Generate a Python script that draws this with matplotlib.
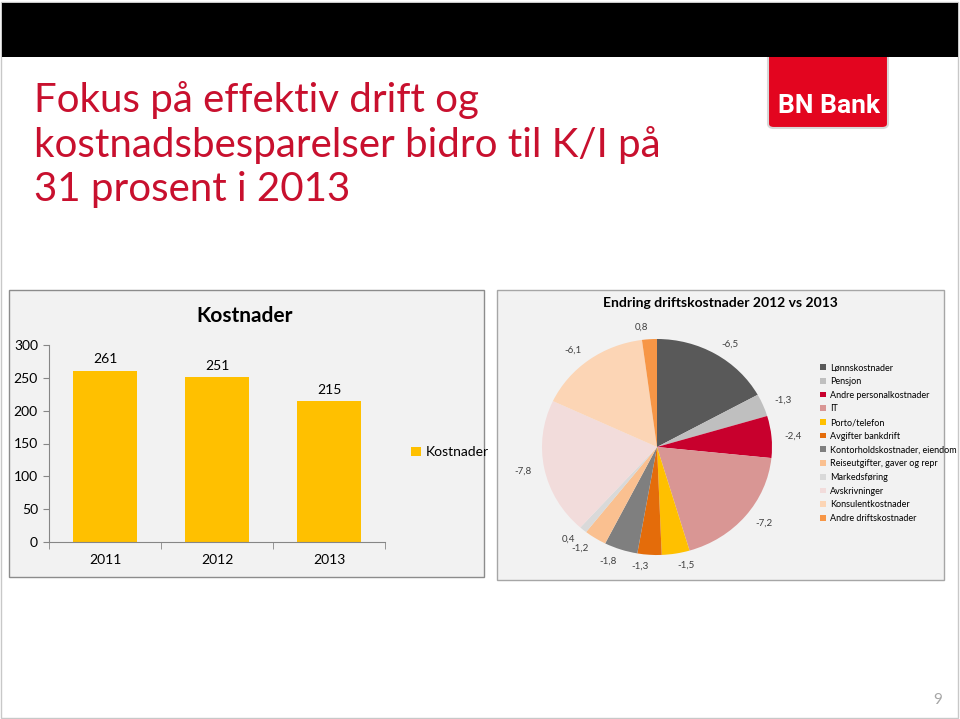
import numpy as np
import matplotlib.pyplot as plt
from matplotlib.patches import Rectangle, FancyBboxPatch

# bar chart data
years = ['2011', '2012', '2013']
kostnader = [261, 251, 215]

# pie chart data (change in NOK mill, 2012 vs 2013)
cost_items = ['Lønnskostnader', 'Pensjon', 'Andre personalkostnader', 'IT',
              'Porto/telefon', 'Avgifter bankdrift', 'Kontorholdskostnader, eiendom',
              'Reiseutgifter, gaver og repr', 'Markedsføring', 'Avskrivninger',
              'Konsulentkostnader', 'Andre driftskostnader']
endring = [-6.5, -1.3, -2.4, -7.2, -1.5, -1.3, -1.8, -1.2, 0.4, -7.8, -6.1, 0.8]
pie_colors = ['#595959', '#bfbfbf', '#c8002d', '#d99694', '#ffc000', '#e46c0a',
              '#7f7f7f', '#fac090', '#d9d9d9', '#f2dcdb', '#fcd5b5', '#f79646']

W, H = 960, 719
FONT = ['Lato', 'DejaVu Sans']
plt.rcParams['font.family'] = FONT


def fr(x0, y0, x1, y1):
    # pixel box (top-left origin) -> figure fraction rect
    return [x0 / W, 1 - y1 / H, (x1 - x0) / W, (y1 - y0) / H]


fig = plt.figure(figsize=(9.6, 7.19), dpi=100)
fig.patch.set_facecolor('white')

# slide frame
fig.add_artist(Rectangle((1 / W, 1 / H), 957 / W, 716 / H, transform=fig.transFigure,
                         fill=False, edgecolor='#c8c8c8', lw=1, zorder=-5))

# logo (red box, top hidden under band)
fig.add_artist(FancyBboxPatch((768 / W, 1 - 128 / H), 120 / W, 80 / H,
                              boxstyle='round,pad=0,rounding_size=0.006',
                              transform=fig.transFigure, facecolor='#e3051f',
                              edgecolor='#d8d8d8', lw=1.5, zorder=-4))
fig.text(829 / W, 1 - 106 / H, 'BN Bank', color='white', fontsize=19, fontweight='bold',
         ha='center', va='center', family=['Roboto', 'DejaVu Sans'])

# black band
fig.add_artist(Rectangle((2 / W, 1 - 57 / H), 956 / W, 54 / H, transform=fig.transFigure,
                         facecolor='black', edgecolor='none', zorder=-3))

# title
title_lines = ['Fokus på effektiv drift og',
               'kostnadsbesparelser bidro til K/I på',
               '31 prosent i 2013']
for i, line in enumerate(title_lines):
    fig.text(34 / W, 1 - (100 + 45 * i) / H, line, color='#c8102e', fontsize=29,
             ha='left', va='center')

# panels
fig.add_artist(Rectangle((9 / W, 1 - 577 / H), 475 / W, 287 / H, transform=fig.transFigure,
                         facecolor='#f2f2f2', edgecolor='#8c8c8c', lw=1, zorder=-2))
fig.add_artist(Rectangle((497 / W, 1 - 580 / H), 447 / W, 290 / H, transform=fig.transFigure,
                         facecolor='#f2f2f2', edgecolor='#a6a6a6', lw=1, zorder=-2))

# ---- bar chart ----
ax = fig.add_axes(fr(49, 345, 385, 542))
ax.set_facecolor('none')
x = np.arange(len(years))
bars = ax.bar(x, kostnader, width=0.57, color='#ffc000', label='Kostnader')
ax.set_xlim(-0.5, 2.5)
ax.set_ylim(0, 300)
ax.set_yticks(range(0, 301, 50))
ax.set_xticks(x)
ax.set_xticklabels(years)
ax.set_xticks([-0.5, 0.5, 1.5, 2.5], minor=True)
ax.tick_params(axis='x', which='major', length=0, pad=9, labelsize=10)
ax.tick_params(axis='x', which='minor', length=5, color='#868686', direction='out')
ax.tick_params(axis='y', length=4, color='#868686', labelsize=10, pad=4)
for s in ['top', 'right']:
    ax.spines[s].set_visible(False)
for s in ['left', 'bottom']:
    ax.spines[s].set_color('#868686')
for xi, v in zip(x, kostnader):
    ax.text(xi, v + 8, str(v), ha='center', va='bottom', fontsize=10)
fig.text(245 / W, 1 - 316 / H, 'Kostnader', fontsize=15, fontweight='bold',
         ha='center', va='center')
ax.legend(loc='center left', bbox_to_anchor=(1.04, 0.455), frameon=False, fontsize=10,
          handlelength=0.7, handleheight=0.7, handletextpad=0.4)

# ---- pie chart ----
pax = fig.add_axes(fr(542, 339, 772, 555))
sizes = np.abs(endring)
labels = [f'{v:.1f}'.replace('.', ',') for v in endring]
wedges, texts = pax.pie(sizes, colors=pie_colors, startangle=90, counterclock=False,
                        labels=labels, labeldistance=1.11,
                        textprops=dict(fontsize=7, color='#404040'))
pax.set_aspect('auto')
pax.set_xlim(-1, 1)
pax.set_ylim(-1, 1)
fig.text(720 / W, 1 - 303 / H, 'Endring driftskostnader 2012 vs 2013', fontsize=10,
         fontweight='bold', ha='center', va='center')
pax.legend(wedges, cost_items, loc='upper left', bbox_to_anchor=(1.175, 0.925),
           frameon=False, fontsize=6.5, handlelength=0.6, handleheight=0.6,
           handletextpad=0.5, labelspacing=0.52)

# page number
fig.text(938 / W, 1 - 700 / H, '9', color='#a6a6a6', fontsize=11, ha='center', va='center')

fig.savefig('out.png', dpi=100)
